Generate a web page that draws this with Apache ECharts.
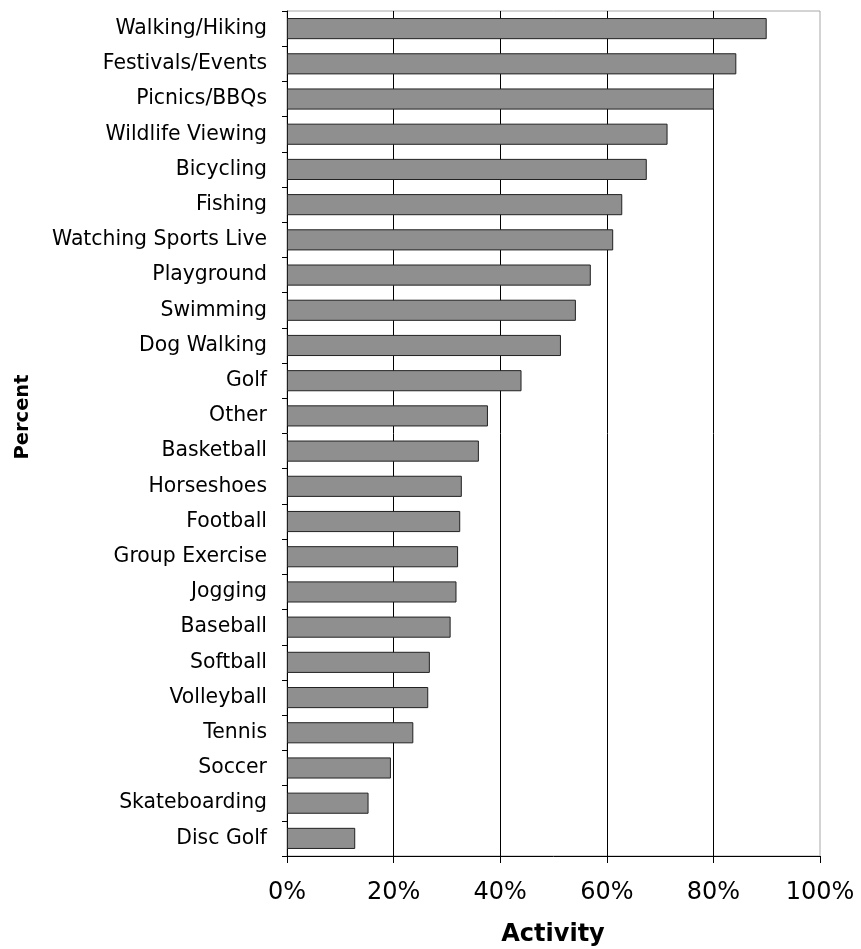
<!DOCTYPE html>
<html>
<head>
<meta charset="utf-8">
<script src="https://cdn.jsdelivr.net/npm/echarts@6/dist/echarts.min.js"></script>
<style>
html,body{margin:0;padding:0;background:#fff;}
#chart{width:861px;height:949px;}
</style>
</head>
<body>
<div id="chart"></div>
<script>
const categories = ["Walking/Hiking","Festivals/Events","Picnics/BBQs","Wildlife Viewing","Bicycling","Fishing","Watching Sports Live","Playground","Swimming","Dog Walking","Golf","Other","Basketball","Horseshoes","Football","Group Exercise","Jogging","Baseball","Softball","Volleyball","Tennis","Soccer","Skateboarding","Disc Golf"];
const values = [90.0,84.3,80.1,71.4,67.5,62.9,61.2,57.0,54.2,51.4,44.0,37.7,36.0,32.8,32.5,32.1,31.8,30.7,26.8,26.5,23.7,19.5,15.3,12.8];
const xTicks = [0,20,40,60,80,100];
const xTitle = "Activity";
const yTitle = "Percent";

const font = "DejaVu Sans, Verdana, sans-serif";
const chart = echarts.init(document.getElementById('chart'));
chart.setOption({
  animation:false,
  backgroundColor:'#fff',
  grid:{left:287,right:41,top:11,bottom:93,show:true,borderColor:'#a8a8a8',borderWidth:1,backgroundColor:'transparent'},
  xAxis:{
    type:'value',min:xTicks[0],max:xTicks[xTicks.length-1],interval:20,
    axisLine:{show:true,lineStyle:{color:'#000',width:1}},
    axisTick:{show:true,length:7,lineStyle:{color:'#000'}},
    axisLabel:{formatter:v=>v+'%',fontFamily:font,fontSize:24,color:'#000',margin:25},
    splitLine:{show:true,showMinLine:false,showMaxLine:false,lineStyle:{color:'#000',width:1}}
  },
  yAxis:{
    type:'category',data:categories,inverse:true,
    axisLine:{show:true,lineStyle:{color:'#000',width:1}},
    axisTick:{show:true,length:5,lineStyle:{color:'#000'}},
    axisLabel:{fontFamily:font,fontSize:20.4,color:'#000',margin:20}
  },
  series:[{
    type:'bar',data:values,barCategoryGap:'40%',
    itemStyle:{color:'#8f8f8f',borderColor:'#222',borderWidth:1}
  }],
  graphic:[
    {type:'text',x:553,y:935,style:{text:xTitle,font:'bold 24px '+font,fill:'#000',align:'center',verticalAlign:'middle'}},
    {type:'text',x:23,y:417,rotation:Math.PI/2,style:{text:yTitle,font:'bold 19.5px '+font,fill:'#000',align:'center',verticalAlign:'middle'}}
  ]
});
</script>
</body>
</html>
